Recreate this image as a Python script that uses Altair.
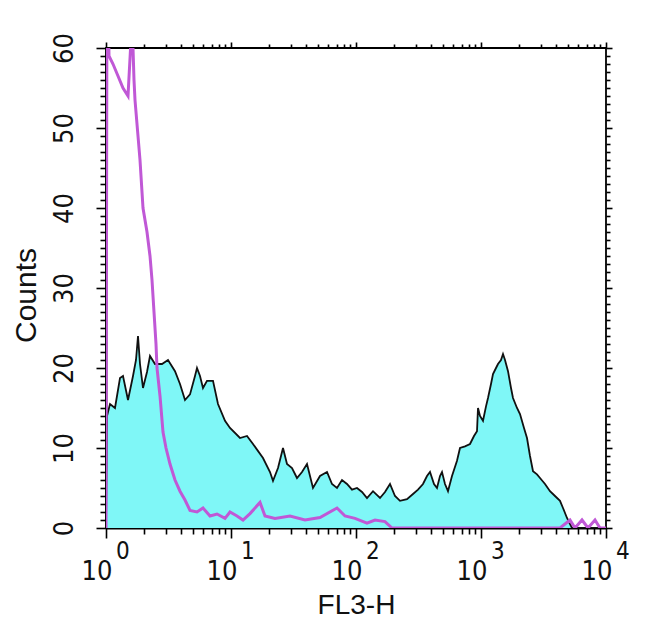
import altair as alt
import pandas as pd

# Sample histogram (cyan): position in decades (log10 of FL3-H) and counts
sample_decade = [0, 0.008, 0.032, 0.072, 0.112, 0.136, 0.176, 0.216, 0.240, 0.256,
                 0.272, 0.296, 0.328, 0.352, 0.392, 0.448, 0.496, 0.552, 0.592, 0.632,
                 0.672, 0.712, 0.728, 0.752, 0.776, 0.808, 0.856, 0.896, 0.952, 0.992,
                 1.072, 1.128, 1.176, 1.256, 1.312, 1.336, 1.376, 1.416, 1.448, 1.488,
                 1.528, 1.568, 1.608, 1.656, 1.712, 1.768, 1.808, 1.848, 1.888, 1.928,
                 1.968, 2.008, 2.048, 2.088, 2.136, 2.192, 2.232, 2.272, 2.312, 2.352,
                 2.408, 2.456, 2.496, 2.536, 2.568, 2.592, 2.624, 2.648, 2.672, 2.688,
                 2.712, 2.736, 2.768, 2.808, 2.832, 2.872, 2.912, 2.944, 2.968, 2.976,
                 2.992, 3.016, 3.040, 3.056, 3.080, 3.096, 3.120, 3.136, 3.160, 3.176,
                 3.192, 3.216, 3.240, 3.256, 3.288, 3.312, 3.344, 3.368, 3.392, 3.416,
                 3.448, 3.472, 3.512, 3.552, 3.592, 3.632, 3.656, 3.688, 3.712, 3.728,
                 4.0]
sample_counts = [0, 14, 15.5, 15, 18.75, 19, 16, 19, 21, 24,
                 20.5, 17.5, 19.5, 21.5, 20.5, 20.5, 21, 19.6, 18, 16,
                 16.7, 19, 20, 19, 17.5, 18.4, 18.4, 15.5, 13.4, 12.5,
                 11.25, 11.5, 10.5, 8.75, 7, 5.9, 7.5, 10, 8, 7.5,
                 6.25, 7, 8, 5, 6.5, 7, 5.5, 5, 6, 5.5,
                 4.8, 5, 4.5, 3.75, 4.6, 3.75, 4.5, 5.5, 4, 3.4,
                 3.6, 4.25, 4.8, 5.5, 6.5, 7, 5.5, 5, 6.5, 7,
                 5.5, 4.6, 6.5, 8.4, 10, 10.2, 10.5, 11.5, 12.1, 15,
                 14, 13.4, 15.2, 16.25, 18, 19.25, 20, 20.5, 21, 21.75,
                 21, 19.6, 17.5, 16.25, 15, 14.25, 12.5, 11.25, 9, 7.1,
                 6.7, 6.25, 5.5, 4.6, 4, 3.4, 2.5, 1.25, 0.5, 0,
                 0]

# Control histogram (magenta)
control_decade = [0, 0.008, 0.024, 0.056, 0.096, 0.136, 0.176, 0.2, 0.216, 0.224,
                  0.232, 0.256, 0.272, 0.296, 0.328, 0.352, 0.368, 0.384, 0.4, 0.408,
                  0.432, 0.456, 0.48, 0.512, 0.552, 0.592, 0.632, 0.672, 0.728, 0.776,
                  0.832, 0.888, 0.952, 0.992, 1.048, 1.096, 1.152, 1.232, 1.272, 1.352,
                  1.472, 1.592, 1.712, 1.848, 1.912, 1.992, 2.088, 2.152, 2.232, 2.288,
                  3.632, 3.712, 3.752, 3.808, 3.856, 3.912, 3.952, 4.0]
control_counts = [0, 72, 59, 58, 56.5, 55, 54, 61, 60, 56,
                  53.5, 49, 46, 40, 37, 34, 31, 27, 23, 20,
                  16.5, 12, 10, 8, 6, 4.6, 3.5, 2.2, 2, 2.5,
                  1.5, 1.75, 1.2, 2, 1.5, 1, 1.8, 3.2, 1.5, 1.2,
                  1.5, 1.0, 1.3, 2.5, 1.5, 1.2, 0.6, 1.0, 0.8, 0,
                  0, 1, 0, 1, 0, 1, 0, 0]

x_ticks = [1, 2, 3, 4, 5, 6, 7, 8, 9,
           10, 20, 30, 40, 50, 60, 70, 80, 90,
           100, 200, 300, 400, 500, 600, 700, 800, 900,
           1000, 2000, 3000, 4000, 5000, 6000, 7000, 8000, 9000, 10000]
x_majors = [1, 10, 100, 1000, 10000]
x_exponents = ["0", "1", "2", "3", "4"]
y_ticks = list(range(0, 61))

sample = pd.DataFrame({"d": sample_decade, "count": sample_counts})
control = pd.DataFrame({"d": control_decade, "count": control_counts})
majors = pd.DataFrame({"fl": x_majors, "exp": x_exponents})

major_test_x = "indexof([1,10,100,1000,10000], datum.value) >= 0"
FONT = "Liberation Sans"
NARROW = "'Liberation Sans Narrow', 'DejaVu Sans Condensed', 'Liberation Sans', sans-serif"

x_scale = alt.Scale(type="log", domain=[1, 10000], nice=False)
y_scale = alt.Scale(domain=[0, 60], nice=False)

x_enc = alt.X(
    "fl:Q",
    scale=x_scale,
    axis=alt.Axis(
        orient="bottom",
        title="FL3-H",
        values=x_ticks,
        labelExpr=f"{major_test_x} ? '10' : ''",
        tickSize={"condition": {"test": major_test_x, "value": 10}, "value": 6},
        labelFont=NARROW,
        labelFontSize=27,
        labelAlign="right",
        labelOffset=6,
        labelPadding=20,
        labelFlush=False,
        titleFontSize=28,
        titleFontWeight="normal",
        titleY=77,
        titleBaseline="middle",
        grid=False,
    ),
)
y_enc = alt.Y(
    "count:Q",
    scale=y_scale,
    axis=alt.Axis(
        orient="left",
        title="Counts",
        values=y_ticks,
        labelExpr="datum.value % 10 == 0 ? datum.value : ''",
        tickSize={"condition": {"test": "datum.value % 10 == 0", "value": 10}, "value": 6},
        labelAngle=270,
        labelAlign="center",
        labelBaseline="bottom",
        labelFont=NARROW,
        labelFontSize=27,
        labelPadding=18,
        labelFlush=False,
        titleFontSize=30,
        titleFontWeight="normal",
        titleX=-80,
        titleY=247,
        titleAlign="center",
        titleBaseline="middle",
        titleAngle=270,
        grid=False,
    ),
)

area = alt.Chart(sample).transform_calculate(
    fl="pow(10, datum.d)"
).mark_area(
    color="#7ff7f7",
    opacity=1,
    interpolate="linear",
    clip=True,
    line={"color": "#111111", "strokeWidth": 1.8},
).encode(x=x_enc, y=y_enc)

line = alt.Chart(control).transform_calculate(
    fl="pow(10, datum.d)"
).mark_line(
    color="#c058d6",
    strokeWidth=3,
    interpolate="linear",
    clip=True,
).encode(x=x_enc, y=y_enc)

# mirrored ticks on top and right borders
mirror = alt.Chart(sample).transform_calculate(
    fl="pow(10, datum.d)"
).mark_point(opacity=0).encode(
    x=alt.X("fl:Q", scale=x_scale, axis=alt.Axis(
        orient="top", values=x_ticks, labels=False, title=None, grid=False, domain=False,
        tickSize={"condition": {"test": major_test_x, "value": 6}, "value": 4})),
    y=alt.Y("count:Q", scale=y_scale, axis=alt.Axis(
        orient="right", values=y_ticks, labels=False, title=None, grid=False, domain=False,
        tickSize={"condition": {"test": "datum.value % 10 == 0", "value": 6}, "value": 4})),
)

exps = alt.Chart(majors).mark_text(
    align="left", baseline="middle", dx=10, fontSize=24, font=NARROW,
    color="#111111", clip=False,
).encode(
    x=alt.X("fl:Q", scale=x_scale, axis=None),
    y=alt.value(504),
    text="exp:N",
)

chart = alt.layer(alt.layer(area, line), exps, mirror).resolve_axis(
    x="independent", y="independent"
).properties(
    width=500,
    height=480,
    autosize=alt.AutoSizeParams(type="none"),
    padding={"left": 98, "top": 40, "right": 30, "bottom": 96},
    background="white",
).configure_view(
    stroke="black", strokeWidth=1.8
).configure_axis(
    labelFont=FONT,
    titleFont=FONT,
    labelColor="#111111",
    titleColor="#111111",
    domainColor="black",
    domainWidth=1.8,
    tickColor="black",
    tickWidth=1.6,
)

chart.save("out.html", embed_options={"renderer": "svg", "actions": False})
